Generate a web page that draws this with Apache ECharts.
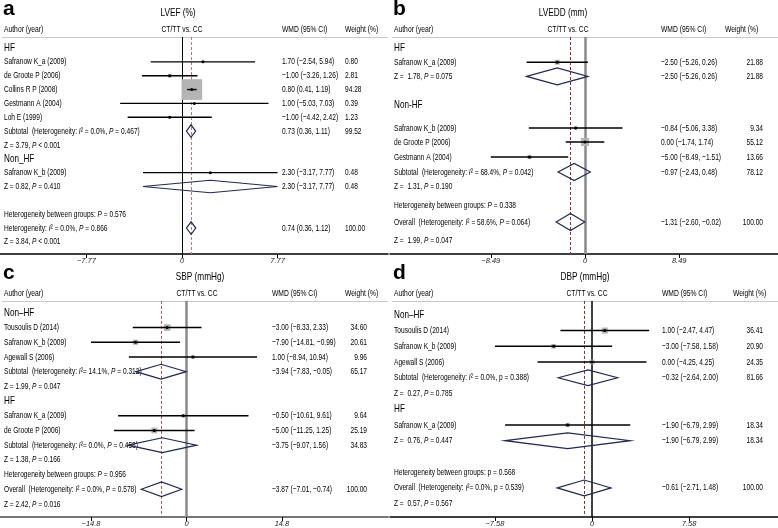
<!DOCTYPE html>
<html><head><meta charset="utf-8">
<script src="https://cdn.jsdelivr.net/npm/echarts@6/dist/echarts.min.js"></script>
<style>html,body{margin:0;padding:0;background:#fff}#c{width:778px;height:528px}</style>
</head><body><div id="c"></div>
<script>
// ---------- Panel a: LVEF (%) ----------
const aTitle = 'LVEF (%)';
const aLabels = ['HF','Safranow K_a (2009)','de Groote P (2006)','Collins R P (2008)','Gestmann A (2004)','Loh E (1999)',
  'Subtotal  (Heterogeneity: {i|I}² = 0.0%, {i|P} = 0.467)','Z = 3.79, {i|P} < 0.001','Non_HF','Safranow K_b (2009)',
  'Z = 0.82, {i|P} = 0.410','','Heterogeneity between groups: {i|P} = 0.576','Heterogeneity: {i|I}² = 0.0%, {i|P} = 0.866','Z = 3.84, {i|P} < 0.001'];
const aKinds = ['g','s','s','s','s','s','d','t','g','s','d','','t','d','t'];
const aEst = [null,1.70,-1.00,0.80,1.00,-1.00,0.73,null,null,2.30,2.30,null,null,0.74,null];
const aLo  = [null,-2.54,-3.26,0.41,-5.03,-4.42,0.36,null,null,-3.17,-3.17,null,null,0.36,null];
const aHi  = [null,5.94,1.26,1.19,7.03,2.42,1.11,null,null,7.77,7.77,null,null,1.12,null];
const aWeight = [null,0.80,2.81,94.28,0.39,1.23,99.52,null,null,0.48,0.48,null,null,100.00,null];
const aTicks = [-7.77, 0, 7.77];
const aOverall = 0.74;

// ---------- Panel b: LVEDD (mm) ----------
const bTitle = 'LVEDD (mm)';
const bLabels = ['HF','Safranow K_a (2009)','Z =  1.78, {i|P} = 0.075','','Non-HF','Safranow K_b (2009)','de Groote P (2006)','Gestmann A (2004)',
  'Subtotal  (Heterogeneity: {i|I}² = 68.4%, {i|P} = 0.042)','Z =  1.31, {i|P} = 0.190','Heterogeneity between groups: {i|P} = 0.338',
  'Overall  (Heterogeneity: {i|I}² = 58.6%, {i|P} = 0.064)','Z =  1.99, {i|P} = 0.047'];
const bKinds = ['g','s','d','','g','s','s','s','d','t','t','d','t'];
const bEst = [null,-2.50,-2.50,null,null,-0.84,0.00,-5.00,-0.97,null,null,-1.31,null];
const bLo  = [null,-5.26,-5.26,null,null,-5.06,-1.74,-8.49,-2.43,null,null,-2.60,null];
const bHi  = [null,0.26,0.26,null,null,3.38,1.74,-1.51,0.48,null,null,-0.02,null];
const bWeight = [null,21.88,21.88,null,null,9.34,55.12,13.66,78.12,null,null,100.00,null];
const bTicks = [-8.49, 0, 8.49];
const bOverall = -1.31;

// ---------- Panel c: SBP (mmHg) ----------
const cTitle = 'SBP (mmHg)';
const cLabels = ['Non\u2013HF','Tousoulis D (2014)','Safranow K_b (2009)','Agewall S (2006)',
  'Subtotal  (Heterogeneity: {i|I}²= 14.1%, {i|P} = 0.312)','Z = 1.99, {i|P} = 0.047','HF','Safranow K_a (2009)','de Groote P (2006)',
  'Subtotal  (Heterogeneity: {i|I}²= 0.0%, {i|P} = 0.458)','Z = 1.38, {i|P} = 0.166','Heterogeneity between groups: {i|P} = 0.956',
  'Overall  (Heterogeneity: {i|I}² = 0.0%, {i|P} = 0.578)','Z = 2.42, {i|P} = 0.016'];
const cKinds = ['g','s','s','s','d','t','g','s','s','d','t','t','d','t'];
const cEst = [null,-3.00,-7.90,1.00,-3.94,null,null,-0.50,-5.00,-3.75,null,null,-3.87,null];
const cLo  = [null,-8.33,-14.81,-8.94,-7.83,null,null,-10.61,-11.25,-9.07,null,null,-7.01,null];
const cHi  = [null,2.33,-0.99,10.94,-0.05,null,null,9.61,1.25,1.56,null,null,-0.74,null];
const cWeight = [null,34.60,20.61,9.96,65.17,null,null,9.64,25.19,34.83,null,null,100.00,null];
const cTicks = [-14.8, 0, 14.8];
const cOverall = -3.87;

// ---------- Panel d: DBP (mmHg) ----------
const dTitle = 'DBP (mmHg)';
const dLabels = ['Non\u2013HF','Tousoulis D (2014)','Safranow K_b (2009)','Agewall S (2006)',
  'Subtotal  (Heterogeneity: {i|I}² = 0.0%, p = 0.388)','Z =  0.27, {i|P} = 0.785','HF','Safranow K_a (2009)','Z =  0.76, {i|P} = 0.447','',
  'Heterogeneity between groups: p = 0.568','Overall  (Heterogeneity: {i|I}²= 0.0%, p = 0.539)','Z =  0.57, {i|P} = 0.567'];
const dKinds = ['g','s','s','s','d','t','g','s','d','','t','d','t'];
const dEst = [null,1.00,-3.00,0.00,-0.32,null,null,-1.90,-1.90,null,null,-0.61,null];
const dLo  = [null,-2.47,-7.58,-4.25,-2.64,null,null,-6.79,-6.79,null,null,-2.71,null];
const dHi  = [null,4.47,1.58,4.25,2.00,null,null,2.99,2.99,null,null,1.48,null];
const dWeight = [null,36.41,20.90,24.35,81.66,null,null,18.34,18.34,null,null,100.00,null];
const dTicks = [-7.58, 0, 7.58];
const dOverall = -0.61;

// ---------- layout / style (not data) ----------
const FONT = "'Liberation Sans',Arial,sans-serif";
const SX = 0.71;              // horizontal text compression
const FS = 9.3;               // row font size
const TXT = '#000';
const PW = 388;
const panels = [
  {letter:'a', title:aTitle, labels:aLabels, kinds:aKinds, est:aEst, lo:aLo, hi:aHi, wt:aWeight, ticks:aTicks, overall:aOverall,
   left:0, headerY:29, axisY:254, row0Y:48, sp:13.85, slots:null, dH:0.45,
   zeroX:182, ppu:12.3, titleX:178, ctX:182, wmdX:282, wtX:345, wtAlign:'left', wtHeadX:345,
   boxK:2.13, zeroColor:'#000', zeroW:1, axisColor:'#000', axisW:1.5, dashColor:'#b07c7c'},
  {letter:'b', title:bTitle, labels:bLabels, kinds:bKinds, est:bEst, lo:bLo, hi:bHi, wt:bWeight, ticks:bTicks, overall:bOverall,
   left:390, headerY:29, axisY:254, row0Y:48, sp:14.2, slots:[0,1,2,3,4.05,5.63,6.62,7.68,8.73,9.72,11.1,12.25,13.52], dH:0.6,
   zeroX:585, ppu:11.1, titleX:563, ctX:568, wmdX:661, wtX:763, wtAlign:'right', wtHeadX:725,
   boxK:1.08, zeroColor:'#8a8a8a', zeroW:2.5, axisColor:'#000', axisW:1.5, dashColor:'#8e2a2a'},
  {letter:'c', title:cTitle, labels:cLabels, kinds:cKinds, est:cEst, lo:cLo, hi:cHi, wt:cWeight, ticks:cTicks, overall:cOverall,
   left:0, headerY:293, axisY:518, row0Y:313, sp:14.76, slots:null, dH:0.5,
   zeroX:186.5, ppu:6.45, titleX:200, ctX:197, wmdX:272, wtX:367, wtAlign:'right', wtHeadX:345,
   boxK:1.14, zeroColor:'#8a8a8a', zeroW:2.5, axisColor:'#777', axisW:2, dashColor:'#a05a5a'},
  {letter:'d', title:dTitle, labels:dLabels, kinds:dKinds, est:dEst, lo:dLo, hi:dHi, wt:dWeight, ticks:dTicks, overall:dOverall,
   left:390, headerY:293, axisY:518, row0Y:315, sp:15.8, slots:null, dH:0.5,
   zeroX:592, ppu:12.8, titleX:585, ctX:587, wmdX:662, wtX:763, wtAlign:'right', wtHeadX:733,
   boxK:1.0, zeroColor:'#000', zeroW:1.5, axisColor:'#000', axisW:1.5, dashColor:'#8e2a2a'}
];

function fmt(v){ return (v < 0 ? '\u2212' : '') + Math.abs(v).toFixed(2); }
function fmtTick(v){ if (Math.abs(v) < 1e-9) return '0'; return (v < 0 ? '\u2212' : '') + String(Math.abs(v)); }
function richFor(size){ return { i: {fontStyle:'italic', fontSize:size, fontFamily:FONT, fill:TXT} }; }
function txt(x, y, s, size, align, sx){
  return {type:'text', x:x, y:y, scaleX:sx || SX, silent:true, style:{text:s, fontSize:size, fontFamily:FONT,
    fill:TXT, align:align||'left', verticalAlign:'middle', rich:richFor(size)}};
}
function crisp(x, w){ return (Math.round(w) % 2 === 1) ? Math.round(x - 0.5) + 0.5 : Math.round(x); }

const grids = [], xAxes = [], yAxes = [], series = [], graphics = [];
panels.forEach((P, k) => {
  const slot = i => (P.slots ? P.slots[i] : i);
  const top = P.headerY - 18;
  const yMin = (top - P.row0Y) / P.sp, yMax = (P.axisY - P.row0Y) / P.sp;
  const hSlot = (P.headerY - P.row0Y) / P.sp, sepSlot = (P.headerY + 8 - P.row0Y) / P.sp;
  grids.push({left:P.left, top:top, width:PW, height:P.axisY - top, containLabel:false});
  xAxes.push({gridIndex:k, type:'value', min:-(P.zeroX - P.left)/P.ppu, max:(P.left + PW - P.zeroX)/P.ppu,
    axisLine:{show:true, onZero:false, lineStyle:{color:P.axisColor, width:P.axisW}},
    axisTick:{show:true, customValues:P.ticks, length:4, lineStyle:{color:'#000', width:1}},
    axisLabel:{show:true, customValues:P.ticks, formatter:fmtTick, fontSize:7.5, fontStyle:'italic', fontFamily:FONT, color:'#222', margin:3},
    splitLine:{show:false}});
  yAxes.push({gridIndex:k, type:'value', inverse:true, min:yMin, max:yMax, show:false});

  // frame: header texts, separator, vertical reference lines
  series.push({type:'custom', xAxisIndex:k, yAxisIndex:k, silent:true, data:[[0, hSlot]], z:1, clip:false,
    renderItem:(params, api) => {
      const cs = params.coordSys;
      const yH = api.coord([0, hSlot])[1];
      const ySep = api.coord([0, sepSlot])[1];
      const yBot = api.coord([0, yMax])[1];
      const x0 = crisp(api.coord([0, 0])[0], P.zeroW);
      const xo = crisp(api.coord([P.overall, 0])[0], 1);
      return {type:'group', children:[
        {type:'line', shape:{x1:cs.x + 2, y1:Math.round(ySep) + 0.5, x2:cs.x + cs.width, y2:Math.round(ySep) + 0.5}, style:{stroke:'#c8c8c8', lineWidth:1}},
        {type:'line', shape:{x1:x0, y1:ySep, x2:x0, y2:yBot}, style:{stroke:P.zeroColor, lineWidth:P.zeroW}},
        {type:'line', shape:{x1:xo, y1:ySep, x2:xo, y2:yBot}, style:{stroke:P.dashColor, lineWidth:1, lineDash:[3,2]}},
        txt(cs.x + 4, yH, 'Author (year)', 9.5),
        txt(P.ctX, yH, 'CT/TT vs. CC', 9.5, 'center'),
        txt(P.wmdX, yH, 'WMD (95% CI)', 9.5),
        txt(P.wtHeadX, yH, 'Weight (%)', 9.5)
      ]};
    }});

  // rows
  series.push({type:'custom', xAxisIndex:k, yAxisIndex:k, silent:true, z:3, clip:false,
    data:P.labels.map((_, i) => [P.est[i] == null ? 0 : P.est[i], slot(i)]),
    renderItem:(params, api) => {
      const i = params.dataIndex;
      const cs = params.coordSys;
      const s0 = slot(i);
      const y = api.coord([0, s0])[1];
      const kind = P.kinds[i];
      const ch = [];
      if (P.labels[i]) ch.push(kind === 'g' ? txt(cs.x + 4, y, P.labels[i], 10.2, 'left', 0.8) : txt(cs.x + 4, y, P.labels[i], FS));
      if (kind === 's' || kind === 'd') {
        const x1 = api.coord([P.lo[i], s0])[0];
        const x2 = api.coord([P.hi[i], s0])[0];
        const xc = api.coord([P.est[i], s0])[0];
        if (kind === 's') {
          const s = Math.max(1, P.boxK * Math.sqrt(P.wt[i]));
          ch.push({type:'rect', shape:{x:xc - s/2, y:y - s/2, width:s, height:s}, style:{fill:'#b4b4b4'}});
          ch.push({type:'line', shape:{x1:x1, y1:y, x2:x2, y2:y}, style:{stroke:'#000', lineWidth:1.4}});
          ch.push({type:'circle', shape:{cx:xc, cy:y, r:1.5}, style:{fill:'#000'}});
        } else {
          const h = P.dH * P.sp;
          ch.push({type:'polygon', shape:{points:[[x1, y], [xc, y - h], [x2, y], [xc, y + h]]},
            style:{fill:'none', stroke:'#202a52', lineWidth:1.2}});
        }
        ch.push(txt(P.wmdX, y, fmt(P.est[i]) + ' (' + fmt(P.lo[i]) + ', ' + fmt(P.hi[i]) + ')', FS));
        ch.push(txt(P.wtX, y, P.wt[i].toFixed(2), FS, P.wtAlign));
      }
      return {type:'group', children:ch};
    }});

  graphics.push({type:'text', left:P.left + 3, top:P.headerY - 30, style:{text:P.letter, font:'bold 21px "Liberation Sans", Arial, sans-serif', fill:'#000'}});
  graphics.push({type:'text', x:P.titleX, y:P.headerY - 16, scaleX:0.75, style:{text:P.title, fontSize:11, fontFamily:FONT, fill:TXT, align:'center', verticalAlign:'middle'}});
});

const chart = echarts.init(document.getElementById('c'), null, {renderer:'canvas'});
chart.setOption({animation:false, backgroundColor:'#fff', grid:grids, xAxis:xAxes, yAxis:yAxes, series:series, graphic:graphics});
</script></body></html>
